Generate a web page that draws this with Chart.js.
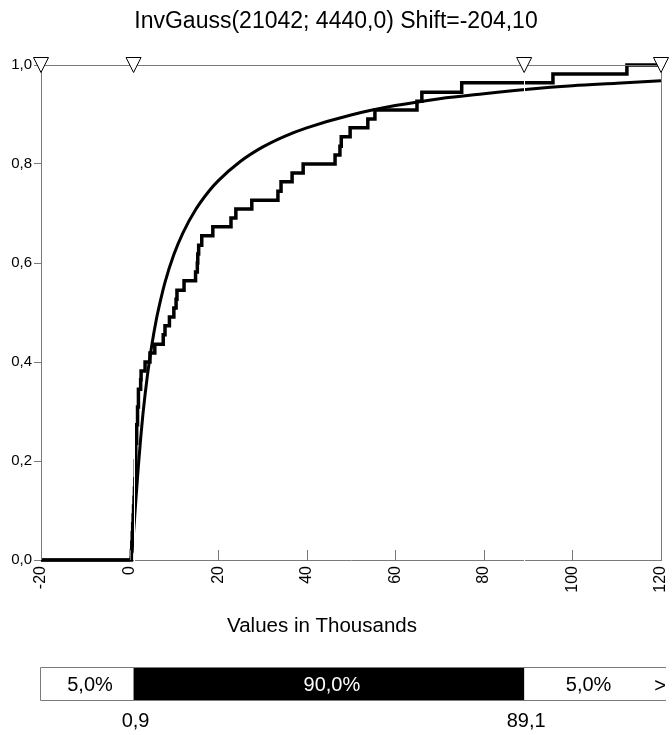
<!DOCTYPE html>
<html>
<head>
<meta charset="utf-8">
<script src="https://cdn.jsdelivr.net/npm/chart.js@4/dist/chart.umd.min.js"></script>
<style>
  html, body { margin: 0; padding: 0; background: #fff; }
</style>
</head>
<body>
<canvas id="cdf" width="672" height="735"></canvas>
<script>
const chartTitle = 'InvGauss(21042; 4440,0) Shift=-204,10';
const axisTitle = 'Values in Thousands';

const xTicks = [-20, 0, 20, 40, 60, 80, 100, 120];
const yTicks = [0, 0.2, 0.4, 0.6, 0.8, 1.0];

// fitted curve (x in thousands)
const fitX = [-20, -0.2, 0.25, 0.5, 0.75, 1, 1.5, 2, 2.5, 3, 4, 5, 6, 7, 8, 10, 12, 15, 18, 20,
              25, 30, 35, 40, 50, 60, 70, 80, 90, 100, 110, 120];
const fitY = [0, 0, 0.002, 0.015, 0.038, 0.067, 0.131, 0.191, 0.245, 0.293, 0.371, 0.433, 0.484, 0.525, 0.561, 0.617, 0.660, 0.709, 0.746, 0.766,
              0.805, 0.834, 0.856, 0.873, 0.899, 0.918, 0.932, 0.942, 0.951, 0.958, 0.963, 0.968];

// input data as cumulative steps: x where it jumps, level after the jump
const stepX = [-20, 0.4, 0.5, 0.6, 0.7, 0.8, 0.9, 1.0, 1.1, 1.2, 1.3, 1.4, 1.6, 1.8, 2.0, 2.5, 2.6, 3.5, 4.6, 5.7,
               7.6, 8.0, 9.0, 10.0, 10.5, 10.7, 12.3, 14.9, 15.3, 15.4, 15.6, 16.3, 18.8, 22.9, 24.0, 27.6, 33.5, 34.2, 36.7, 39.2,
               46.4, 47.5, 47.8, 49.8, 53.8, 55.4, 64.9, 66.0, 75.0, 95.6, 112.3, 120];
const stepY = [0, 0.018, 0.036, 0.055, 0.073, 0.091, 0.109, 0.127, 0.145, 0.164, 0.2, 0.236, 0.273, 0.309, 0.345, 0.364, 0.382, 0.4, 0.418, 0.436,
               0.455, 0.473, 0.491, 0.509, 0.527, 0.545, 0.564, 0.582, 0.6, 0.618, 0.636, 0.655, 0.673, 0.691, 0.709, 0.727, 0.745, 0.764, 0.782, 0.8,
               0.818, 0.836, 0.855, 0.873, 0.891, 0.909, 0.927, 0.945, 0.964, 0.982, 1.0, 1.0];

// 5% / 95% delimiters and the band underneath
const markX = [0.9, 89.1];
const markLabels = ['0,9', '89,1'];
const bandLabels = ['5,0%', '90,0%', '5,0%'];
const triX = [-20, 0.9, 89.1, 120];

const FONT = '"Liberation Sans", Arial, sans-serif';
const GREY = '#7a7a7a';

const fmt = v => v.toFixed(1).replace('.', ',');

const extras = {
  id: 'extras',
  afterDatasetsDraw(chart) {
    const { ctx, chartArea: a, scales: { x } } = chart;
    const px = v => Math.round(x.getPixelForValue(v)) + 0.5;
    ctx.save();
    ctx.lineWidth = 1;

    // top border
    ctx.strokeStyle = GREY;
    ctx.beginPath(); ctx.moveTo(a.left, a.top + 0.5); ctx.lineTo(a.right, a.top + 0.5); ctx.stroke();

    // short ticks pointing into the plot
    xTicks.forEach(v => {
      ctx.beginPath(); ctx.moveTo(px(v), a.bottom - 10); ctx.lineTo(px(v), a.bottom); ctx.stroke();
    });

    // white cuts at the delimiters
    ctx.strokeStyle = '#fff';
    markX.forEach(v => {
      ctx.beginPath(); ctx.moveTo(px(v), a.top + 2); ctx.lineTo(px(v), a.bottom + 1); ctx.stroke();
    });

    // hollow triangles along the top
    ctx.fillStyle = '#fff';
    ctx.strokeStyle = '#000';
    triX.forEach(v => {
      const cx = x.getPixelForValue(v);
      ctx.beginPath();
      ctx.moveTo(cx - 7.5, a.top - 7.5);
      ctx.lineTo(cx + 7.5, a.top - 7.5);
      ctx.lineTo(cx, a.top + 7.5);
      ctx.closePath();
      ctx.fill(); ctx.stroke();
    });

    // axis title, centred a little left of the plot middle as in the original
    ctx.fillStyle = '#000';
    ctx.font = '20.5px ' + FONT;
    ctx.textAlign = 'center';
    ctx.textBaseline = 'middle';
    ctx.fillText(axisTitle, 322, 626);

    // percentile band below the chart
    const top = 667.5, bot = 700.5;
    const left = px(-20) - 1, right = chart.width - 6;
    const m0 = x.getPixelForValue(markX[0]), m1 = x.getPixelForValue(markX[1]);
    ctx.fillRect(m0, top, m1 - m0, bot - top);
    ctx.strokeStyle = GREY;
    ctx.beginPath();
    ctx.moveTo(right, top); ctx.lineTo(left, top); ctx.lineTo(left, bot); ctx.lineTo(right, bot);
    ctx.stroke();

    ctx.font = '20px ' + FONT;
    ctx.fillText(bandLabels[0], (left + m0) / 2 + 3, 685);
    ctx.fillText(bandLabels[2], (m1 + x.getPixelForValue(120)) / 2 - 4, 685);
    ctx.fillText('>', x.getPixelForValue(120) - 1, 686);
    ctx.fillStyle = '#fff';
    ctx.fillText(bandLabels[1], (m0 + m1) / 2 + 3, 685);
    ctx.fillStyle = '#000';
    markLabels.forEach((t, i) => ctx.fillText(t, x.getPixelForValue(markX[i]) + 2, 721));
    ctx.restore();
  }
};

new Chart(document.getElementById('cdf'), {
  type: 'line',
  data: {
    datasets: [
      {
        data: fitX.map((v, i) => ({ x: v, y: fitY[i] })),
        borderColor: '#000',
        borderWidth: 3,
        pointRadius: 0,
        cubicInterpolationMode: 'monotone',
        clip: false
      },
      {
        data: stepX.map((v, i) => ({ x: v, y: stepY[i] })),
        borderColor: '#000',
        borderWidth: 3.5,
        pointRadius: 0,
        stepped: true,
        clip: false
      }
    ]
  },
  options: {
    responsive: false,
    animation: false,
    devicePixelRatio: 1,
    layout: { padding: { left: 0, right: 0, top: 0, bottom: 85 } },
    plugins: {
      legend: { display: false },
      tooltip: { enabled: false },
      title: {
        display: true,
        text: chartTitle,
        color: '#000',
        font: { family: FONT, size: 23, weight: 'normal', lineHeight: 1.2 },
        padding: { top: 8, bottom: 29.4 }
      }
    },
    scales: {
      x: {
        type: 'linear',
        min: -20,
        max: 120,
        afterBuildTicks: s => { s.ticks = xTicks.map(v => ({ value: v })); },
        afterFit: s => { s.height = 90; s.paddingLeft = 0; s.paddingRight = 0; },
        ticks: {
          minRotation: 90,
          maxRotation: 90,
          padding: 6,
          color: '#000',
          font: { family: FONT, size: 16 },
          callback: v => String(v)
        },
        grid: { drawOnChartArea: false, drawTicks: false },
        border: { color: GREY }
      },
      y: {
        min: 0,
        max: 1,
        afterBuildTicks: s => { s.ticks = yTicks.map(v => ({ value: v })); },
        afterFit: s => { s.width = 41; s.paddingTop = 0; s.paddingBottom = 0; },
        ticks: {
          padding: 2,
          color: '#000',
          font: { family: FONT, size: 15 },
          callback: v => fmt(v)
        },
        grid: { drawOnChartArea: false, tickLength: 7, color: GREY },
        border: { color: GREY }
      },
      y2: {
        position: 'right',
        min: 0,
        max: 1,
        afterFit: s => { s.width = 11; s.paddingTop = 0; s.paddingBottom = 0; },
        ticks: { display: false },
        grid: { display: false, drawTicks: false },
        border: { color: GREY }
      }
    }
  },
  plugins: [extras]
});
</script>
</body>
</html>
